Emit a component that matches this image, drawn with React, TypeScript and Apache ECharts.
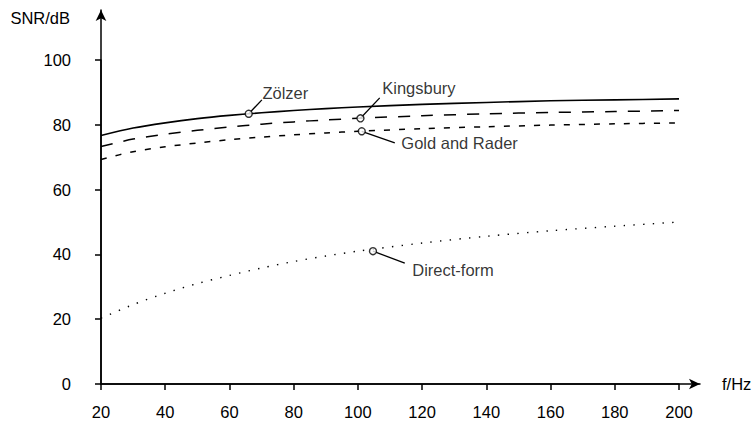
import React, { useEffect, useRef } from "react";
import * as echarts from "echarts";

const freq = [20, 30, 40, 50, 60, 70, 80, 90, 100, 120, 140, 160, 180, 200];
const zoelzer = [76.7, 79.0, 80.6, 81.9, 82.9, 83.7, 84.4, 85.0, 85.5, 86.3, 86.9, 87.4, 87.7, 88.0];
const kingsbury = [73.3, 75.6, 77.1, 78.3, 79.3, 80.2, 80.9, 81.5, 82.0, 82.8, 83.4, 83.8, 84.1, 84.4];
const goldRader = [69.3, 71.7, 73.2, 74.4, 75.4, 76.2, 76.9, 77.5, 78.0, 78.8, 79.4, 79.9, 80.3, 80.6];
const directForm = [20.3, 24.5, 28.0, 31.0, 33.5, 35.8, 37.8, 39.5, 41.0, 43.5, 45.6, 47.3, 48.7, 50.0];

const xMin = 20;
const xMax = 200;
const xStep = 20;
const yMin = 0;
const yMax = 100;
const yStep = 20;

const annoNames = ["Zölzer", "Kingsbury", "Gold and Rader", "Direct-form"];
const markerX = [66, 100.8, 101.2, 104.7];
const markerY = [83.4, 82.0, 78.0, 41.0];
const leaderX = [70.1, 106.8, 111.5, 114.6];
const leaderY = [87.7, 88.3, 74.4, 37.3];

const FONT = "'Liberation Sans', Arial, sans-serif";
const FS = 16.5;

export default function App() {
  const ref = useRef<HTMLDivElement>(null);
  useEffect(() => {
    if (!ref.current) return;
    const chart = echarts.init(ref.current, null, { renderer: "svg" });
    const pairs = (ys: number[]) => freq.map((f, i) => [f, ys[i]]);
    const labelOffsets: any[] = [
      { distance: 0, offset: [0, -7] },
      { distance: 2, offset: [0, -10] },
      { distance: 6, offset: [0, 0] },
      { distance: 7, offset: [0, 7] },
    ];
    const curveStyle = (dash: any, width: number) => ({
      type: "line",
      smooth: 0.3,
      symbol: "none",
      xAxisIndex: 0,
      yAxisIndex: 0,
      lineStyle: { color: "#000", width, type: dash, cap: "butt" },
      z: 2,
    });
    const axisLineStyle = { color: "#000", width: 1.5 };
    const labelStyle = { fontFamily: FONT, fontSize: FS, color: "#000" };
    const option: any = {
      animation: false,
      backgroundColor: "#fff",
      textStyle: { fontFamily: FONT, color: "#000" },
      grid: [
        { left: 101, right: 77, top: 60, bottom: 39 },
        { left: 101, right: 56, top: 10, bottom: 39 },
      ],
      xAxis: [
        {
          type: "value",
          gridIndex: 0,
          min: xMin,
          max: xMax,
          interval: xStep,
          axisLine: { show: true, lineStyle: axisLineStyle },
          axisTick: { show: true, length: 6, lineStyle: axisLineStyle },
          axisLabel: { ...labelStyle, margin: 19 },
          splitLine: { show: false },
        },
        {
          type: "value",
          gridIndex: 1,
          min: xMin,
          max: 206.4,
          name: "f/Hz",
          nameLocation: "end",
          nameGap: 22,
          nameTextStyle: { ...labelStyle, align: "left", verticalAlign: "middle" },
          axisLine: { show: true, lineStyle: axisLineStyle, symbol: ["none", "arrow"], symbolSize: [8, 11] },
          axisTick: { show: false },
          axisLabel: { show: false },
          splitLine: { show: false },
        },
      ],
      yAxis: [
        {
          type: "value",
          gridIndex: 0,
          min: yMin,
          max: yMax,
          interval: yStep,
          axisLine: { show: true, lineStyle: axisLineStyle },
          axisTick: { show: true, length: 6, lineStyle: axisLineStyle },
          axisLabel: { ...labelStyle, margin: 30 },
          splitLine: { show: false },
        },
        {
          type: "value",
          gridIndex: 1,
          min: yMin,
          max: 115.4,
          name: "SNR/dB",
          nameLocation: "end",
          nameGap: -8,
          nameTextStyle: { ...labelStyle, align: "right", verticalAlign: "middle", padding: [0, 31, 0, 0] },
          axisLine: { show: true, lineStyle: axisLineStyle, symbol: ["none", "arrow"], symbolSize: [8, 11] },
          axisTick: { show: false },
          axisLabel: { show: false },
          splitLine: { show: false },
        },
      ],
      series: [
        { name: "Zölzer", data: pairs(zoelzer), ...curveStyle("solid", 1.6) },
        { name: "Kingsbury", data: pairs(kingsbury), ...curveStyle([12, 11], 1.5) },
        { name: "Gold and Rader", data: pairs(goldRader), ...curveStyle([6, 9], 1.5) },
        { name: "Direct-form", data: pairs(directForm), ...curveStyle([1.4, 8.3], 1.4) },
        ...annoNames.map((n, i) => ({
          type: "line",
          name: n + " leader",
          symbol: "none",
          xAxisIndex: 0,
          yAxisIndex: 0,
          data: [
            [markerX[i], markerY[i]],
            [leaderX[i], leaderY[i]],
          ],
          lineStyle: { color: "#000", width: 1.3, type: "solid" },
          z: 3,
        })),
        {
          type: "scatter",
          name: "labels",
          symbol: "circle",
          symbolSize: 1,
          xAxisIndex: 0,
          yAxisIndex: 0,
          itemStyle: { color: "rgba(0,0,0,0)" },
          data: annoNames.map((n, i) => ({
            value: [leaderX[i], leaderY[i]],
            label: {
              show: true,
              formatter: n,
              position: "right",
              ...labelStyle,
              ...labelOffsets[i],
            },
          })),
          z: 4,
        },
        {
          type: "scatter",
          name: "markers",
          symbol: "circle",
          symbolSize: 7,
          xAxisIndex: 0,
          yAxisIndex: 0,
          itemStyle: { color: "#fff", borderColor: "#000", borderWidth: 1.4 },
          data: annoNames.map((n, i) => [markerX[i], markerY[i]]),
          z: 5,
        },
      ],
    };
    chart.setOption(option);
    return () => chart.dispose();
  }, []);
  return <div ref={ref} style={{ position: "fixed", left: 0, top: 0, width: 756, height: 423 }} />;
}
